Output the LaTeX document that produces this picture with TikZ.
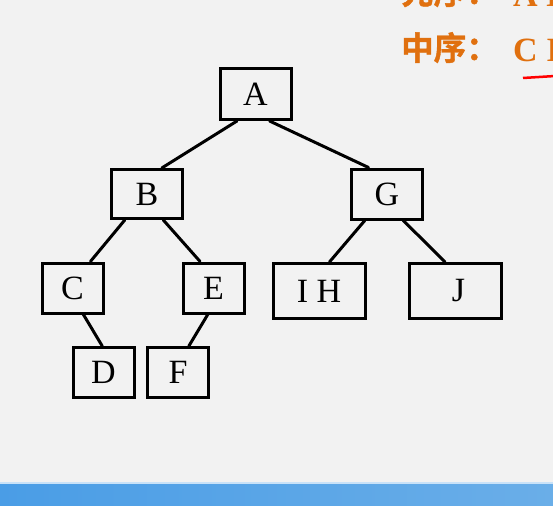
\documentclass[tikz,border=0pt]{standalone}
\usepackage{fontspec}
\setmainfont{Liberation Serif}
\newfontfamily\cjkb{Noto Sans CJK SC Bold}[FakeBold=1.2]
\usetikzlibrary{calc}
\definecolor{bg}{HTML}{F2F2F2}
\definecolor{ora}{HTML}{E0700F}
\definecolor{barl}{HTML}{4A9DE6}
\definecolor{barr}{HTML}{6AAEE8}
\tikzset{
  tbox/.style={draw=black, line width=3pt, fill=bg, inner sep=0pt, font=\fontsize{34}{34}\selectfont},
  edge/.style={line width=3pt, line cap=round},
  ord/.style={text=ora, inner sep=0pt, anchor=base west},
  cjkt/.style={ord, font=\cjkb\fontsize{32.5}{32.5}\selectfont},
  latt/.style={ord, font=\bfseries\fontsize{34}{34}\selectfont},
}
\begin{document}
\begin{tikzpicture}[x=1pt,y=1pt]
\useasboundingbox (0,0) rectangle (553,-505);
\clip (0,0) rectangle (553,-505);
\fill[bg] (0,0) rectangle (553,-505);
% bottom bar
\shade[left color=barl, right color=barr] (0,-483) rectangle (553,-505);
\fill[white!70!barl] (0,-481.5) rectangle (553,-483.5);
% order texts
\node[cjkt] (pre) at (401,-4) {先序：};
\node[latt] (prev) at (513,-7) {A B};
\node[cjkt] (mid) at (401,-60) {中序：};
\node[latt] (midv) at (513,-62) {C I};
\coordinate (u1) at (523,-78);
\coordinate (u2) at (555,-76);
\draw[red, line width=2.5pt] (u1) -- (u2);
% tree nodes
\node[tbox, minimum width=71pt, minimum height=51pt] (A) at (255.5,-94) {A};
\node[tbox, minimum width=71pt, minimum height=49pt] (B) at (147,-194) {B};
\node[tbox, minimum width=71pt, minimum height=50pt] (G) at (387,-194) {G};
\node[tbox, minimum width=61pt, minimum height=50pt] (C) at (72.5,-288) {C};
\node[tbox, minimum width=61pt, minimum height=50pt] (E) at (213.5,-288) {E};
\node[tbox, minimum width=92pt, minimum height=55pt] (IH) at (319,-291) {I H};
\node[tbox, minimum width=92pt, minimum height=55pt] (J) at (455.5,-291) {\hspace{6pt}J};
\node[tbox, minimum width=61pt, minimum height=50pt] (D) at (103.5,-372.5) {D};
\node[tbox, minimum width=61pt, minimum height=50pt] (F) at (178,-372.5) {F};
% edges
\draw[edge] ($(A.south west)!0.25!(A.south east)$) -- ($(B.north west)!0.7!(B.north east)$);
\draw[edge] ($(A.south west)!0.69!(A.south east)$) -- ($(G.north west)!0.25!(G.north east)$);
\draw[edge] ($(B.south west)!0.2!(B.south east)$) -- ($(C.north west)!0.78!(C.north east)$);
\draw[edge] ($(B.south west)!0.72!(B.south east)$) -- ($(E.north west)!0.29!(E.north east)$);
\draw[edge] ($(G.south west)!0.2!(G.south east)$) -- ($(IH.north west)!0.61!(IH.north east)$);
\draw[edge] ($(G.south west)!0.72!(G.south east)$) -- ($(J.north west)!0.39!(J.north east)$);
\draw[edge] ($(C.south west)!0.67!(C.south east)$) -- ($(D.north west)!0.48!(D.north east)$);
\draw[edge] ($(E.south west)!0.41!(E.south east)$) -- ($(F.north west)!0.67!(F.north east)$);
\end{tikzpicture}
\end{document}
